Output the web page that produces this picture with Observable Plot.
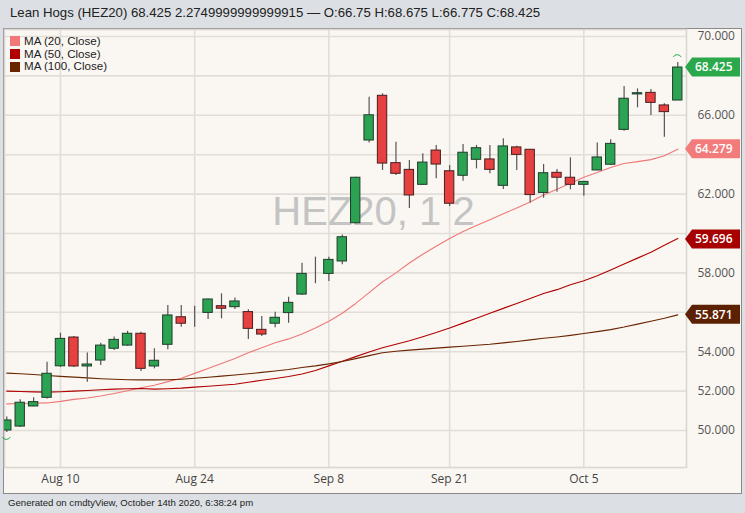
<!DOCTYPE html>
<html>
<head>
<meta charset="utf-8">
<script src="https://cdn.jsdelivr.net/npm/d3@7"></script>
<script src="https://cdn.jsdelivr.net/npm/@observablehq/plot@0.6"></script>
<style>
  html, body { margin: 0; padding: 0; }
  body { width: 745px; height: 513px; background: #dcdfe3; position: relative; overflow: hidden; font-family: "Liberation Sans", Arial, sans-serif; }
  #title { position: absolute; left: 10px; top: 5px; font-size: 13.2px; color: #222; white-space: nowrap; }
  #panel { position: absolute; left: 3px; top: 28px; width: 739px; height: 466px; box-sizing: border-box; border: 1px solid #8a8a8a; background: #faf7f2; }
  #chart { position: absolute; left: 0; top: 0; }
  #legend { position: absolute; left: 6px; top: 6px; font-size: 11.6px; color: #222; }
  #legend .row { display: flex; align-items: center; height: 12.7px; }
  #legend .row span { line-height: 12.7px; }
  #legend .sw { width: 10px; height: 10px; margin-right: 4px; }
  #footer { position: absolute; left: 8px; top: 497px; font-size: 9.6px; color: #222; white-space: nowrap; }
</style>
</head>
<body>
<div id="title">Lean Hogs (HEZ20) 68.425 2.2749999999999915 — O:66.75 H:68.675 L:66.775 C:68.425</div>
<div id="panel"><div id="chart"></div>
  <div id="legend"></div>
</div>
<div id="footer">Generated on cmdtyView, October 14th 2020, 6:38:24 pm</div>
<script>
const dates = [
  "2020-08-04","2020-08-05","2020-08-06","2020-08-07","2020-08-10","2020-08-11","2020-08-12","2020-08-13","2020-08-14",
  "2020-08-17","2020-08-18","2020-08-19","2020-08-20","2020-08-21","2020-08-24","2020-08-25","2020-08-26","2020-08-27","2020-08-28",
  "2020-08-31","2020-09-01","2020-09-02","2020-09-03","2020-09-04","2020-09-08","2020-09-09","2020-09-10","2020-09-11",
  "2020-09-14","2020-09-15","2020-09-16","2020-09-17","2020-09-18","2020-09-21","2020-09-22","2020-09-23","2020-09-24","2020-09-25",
  "2020-09-28","2020-09-29","2020-09-30","2020-10-01","2020-10-02","2020-10-05","2020-10-06","2020-10-07","2020-10-08","2020-10-09",
  "2020-10-12","2020-10-13","2020-10-14"
];
const open  = [50.0,50.2,51.22,51.66,53.26,54.72,53.25,53.55,54.15,54.31,54.91,53.25,54.35,55.75,55.55,55.97,56.31,56.26,56.01,55.11,
  55.42,55.96,56.9,58.24,57.95,58.58,60.52,64.72,66.99,63.57,63.23,62.47,64.21,63.16,62.93,63.74,63.76,62.42,64.37,64.25,
  62.06,63.08,62.83,62.47,63.2,63.49,65.26,67.06,67.14,66.5,66.75];
const high  = [50.68,51.56,51.66,53.47,54.94,54.77,53.93,54.43,54.74,55.04,54.99,54.15,56.35,56.35,56.31,56.67,56.94,56.73,56.13,55.79,
  56.0,56.77,58.49,58.8,58.8,59.93,62.85,66.92,67.09,64.63,63.71,64.05,64.47,63.45,64.52,64.47,64.47,64.81,64.43,64.27,
  63.5,63.25,63.84,62.64,64.6,64.76,67.46,67.34,67.31,66.58,68.675];
const low   = [49.9,50.15,51.2,51.6,53.2,53.2,52.45,53.3,54.06,54.28,52.99,53.13,54.1,55.24,55.24,55.63,55.67,56.14,54.62,54.77,
  55.21,55.45,56.85,57.45,57.56,58.41,60.5,64.6,63.2,62.94,61.27,62.45,62.78,61.37,62.65,63.28,63.03,62.23,63.2,61.55,
  61.79,62.1,62.22,61.89,63.18,63.47,65.19,66.38,65.99,64.89,66.775];
const close = [50.51,51.41,51.44,52.88,54.65,53.25,53.35,54.31,54.6,54.91,53.13,53.54,55.84,55.42,55.55,56.65,56.18,56.55,55.16,54.87,
  55.72,56.48,57.95,58.24,58.66,59.81,62.83,66.0,63.55,63.03,61.93,63.6,63.5,61.51,64.1,64.33,63.23,64.42,63.99,61.95,
  63.06,62.83,62.47,62.62,63.86,64.55,66.84,67.12,66.63,66.16,68.425];
const ma20  = [51.35,51.37,51.38,51.40,51.48,51.58,51.65,51.75,51.88,52.02,52.17,52.3,52.48,52.65,52.9,53.15,53.4,53.65,53.95,54.2,
  54.45,54.65,54.9,55.2,55.55,55.95,56.45,57.0,57.55,58.0,58.5,58.95,59.35,59.75,60.1,60.4,60.7,61.0,61.3,61.6,
  61.95,62.25,62.55,62.85,63.1,63.35,63.55,63.65,63.75,63.95,64.28];
const ma50  = [52.0,51.98,51.96,51.95,51.97,52.0,52.03,52.07,52.1,52.12,52.13,52.1,52.12,52.15,52.2,52.25,52.3,52.35,52.45,52.55,
  52.64,52.74,52.87,53.05,53.28,53.52,53.75,53.98,54.2,54.38,54.56,54.76,54.97,55.2,55.45,55.7,55.95,56.2,56.45,56.7,
  56.95,57.15,57.4,57.6,57.85,58.15,58.45,58.75,59.05,59.4,59.75];
const ma100 = [52.91,52.88,52.84,52.79,52.75,52.71,52.67,52.63,52.6,52.58,52.57,52.57,52.58,52.6,52.65,52.7,52.76,52.82,52.88,52.95,
  53.02,53.1,53.2,53.28,53.38,53.5,53.65,53.8,53.95,54.02,54.08,54.13,54.18,54.23,54.28,54.33,54.38,54.45,54.52,54.6,
  54.68,54.75,54.83,54.92,55.02,55.12,55.25,55.4,55.55,55.7,55.87];
const xTickDates  = ["2020-08-10","2020-08-24","2020-09-08","2020-09-21","2020-10-05"];
const xTickLabels = ["Aug 10","Aug 24","Sep 8","Sep 21","Oct 5"];
const yGrid = [50,52,54,56,58,60,62,64,66,68,70];
const yTickLabels = [50,52,54,58,62,66,70]; // the others sit under the value badges
const seriesNames = ["MA (20, Close)","MA (50, Close)","MA (100, Close)"];
const seriesColors = ["#f07878","#b00000","#6a2500"];
const badgeValues = [68.425, 64.279, 59.696, 55.871];
const badgeColors = ["#2aa84b","#f27b7b","#a60000","#5c2003"];
const watermark = "HEZ20, 1 2";

const candles = dates.map((d, i) => ({
  i, date: d, o: open[i], h: high[i], l: low[i], c: close[i],
  dir: close[i] > open[i] ? "up" : close[i] < open[i] ? "down" : "flat"
}));
const fillOf = {up: "#2ba352", down: "#e64040", flat: "#333"};
const strokeOf = {up: "#1f3d2a", down: "#4a1f1f", flat: "#222"};
const maData = [ma20, ma50, ma100].flatMap((arr, k) => arr.map((v, i) => ({i, v, s: seriesNames[k]})));
const xTickIdx = xTickDates.map(d => dates.indexOf(d));

// legend
const leg = document.getElementById("legend");
seriesNames.forEach((n, k) => {
  const r = document.createElement("div"); r.className = "row";
  r.innerHTML = `<div class="sw" style="background:${seriesColors[k]}"></div><span>${n}</span>`;
  leg.appendChild(r);
});

const extremesMark = (index, scales, values, dims) => {
  const g = d3.create("svg:g");
  const x0 = dims.width - dims.marginRight;
  // arcs marking the highest high and lowest low
  const hiI = d3.maxIndex(high), loI = d3.minIndex(low);
  const hx = scales.x(hiI), hy = scales.y(high[hiI]) - 5;
  g.append("path").attr("d", `M${hx-4},${hy} A4.5,4.5 0 0 1 ${hx+4},${hy}`).attr("fill", "none").attr("stroke", "#2aa84b").attr("stroke-width", 1);
  const lx = scales.x(loI), ly = scales.y(low[loI]) + 5;
  g.append("path").attr("d", `M${lx-4},${ly} A4.5,4.5 0 0 0 ${lx+4},${ly}`).attr("fill", "none").attr("stroke", "#2aa84b").attr("stroke-width", 1);
  badgeValues.forEach((v, k) => {
    const y = scales.y(v);
    const tip = x0 - 1, r0 = x0 + 6, r1 = dims.width - 1, h = 9.5;
    g.append("path")
      .attr("d", `M${tip},${y} L${r0},${y-h} L${r1},${y-h} L${r1},${y+h} L${r0},${y+h} Z`)
      .attr("fill", badgeColors[k]);
    g.append("text").attr("x", r0 + 3).attr("y", y).attr("dy", "0.36em")
      .attr("text-anchor", "start")
      .attr("fill", "white").attr("font-family", "Open Sans").attr("font-weight", 600).attr("font-size", 12)
      .text(v.toFixed(3));
  });
  return g.node();
};

const chart = Plot.plot({
  width: 737, height: 464,
  marginLeft: 0, marginRight: 55, marginTop: 0, marginBottom: 26,
  style: {background: "transparent", fontFamily: "Open Sans", fontSize: "12px", overflow: "visible"},
  x: {type: "linear", domain: [-0.171, 50.65], axis: null},
  y: {domain: [48.122, 70.355], axis: null},
  marks: [
    Plot.gridY({ticks: yGrid, stroke: "#e1ddd8", strokeOpacity: 1, strokeWidth: 1.6}),
    Plot.gridX({ticks: xTickIdx, stroke: "#e1ddd8", strokeOpacity: 1, strokeWidth: 1.6}),
    Plot.frame({stroke: "#dad7d3", strokeWidth: 1.6}),
    Plot.axisY({ticks: yTickLabels, anchor: "right", tickSize: 0, tickPadding: 11, textAnchor: "start", label: null,
      tickFormat: d => d.toFixed(3), fill: "#555", fontSize: 12}),
    Plot.axisX({ticks: xTickIdx, anchor: "bottom", tickSize: 0, tickPadding: 7, label: null,
      tickFormat: i => xTickLabels[xTickIdx.indexOf(i)], fill: "#444", fontSize: 12}),
    Plot.text([watermark], {frameAnchor: "middle", text: d => d, dx: 28, dy: -36, fontSize: 40,
      fontFamily: "Liberation Sans", fill: "#c4c4c4"}),
    Plot.line(maData, {x: "i", y: "v", z: "s", stroke: d => seriesColors[seriesNames.indexOf(d.s)], strokeWidth: 1.1, clip: true}),
    Plot.ruleX(candles, {x: "i", y1: "l", y2: "h", stroke: "#555", strokeWidth: 1.2, clip: true}),
    Plot.rect(candles, {x1: d => d.i - 0.35, x2: d => d.i + 0.35, y1: "o", y2: "c",
      fill: d => fillOf[d.dir], stroke: d => strokeOf[d.dir], strokeWidth: 1, clip: true}),
    extremesMark
  ]
});
document.getElementById("chart").appendChild(chart);
</script>
</body>
</html>
